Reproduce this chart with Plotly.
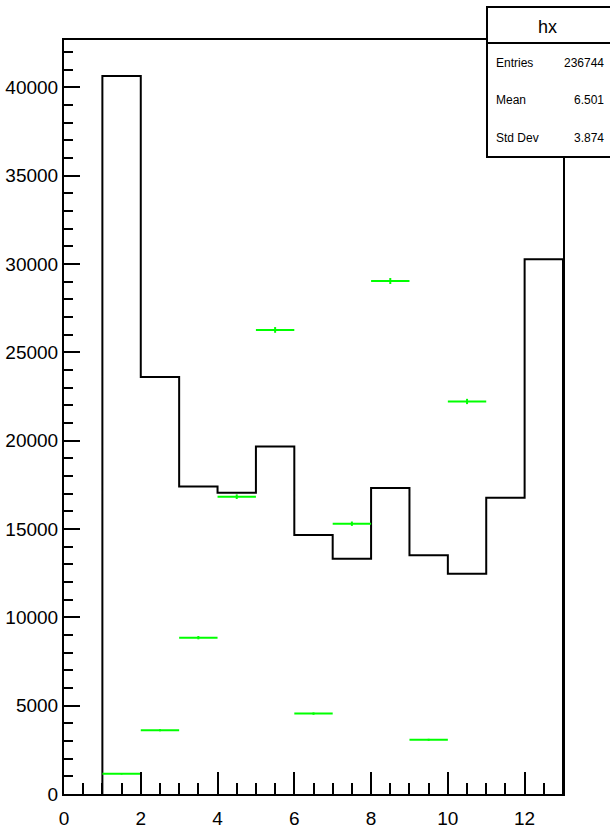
import numpy as np
import plotly.graph_objects as go

# Histogram "hx" (black outline), bins of width 1 from 1 to 13
bin_edges = [1, 2, 3, 4, 5, 6, 7, 8, 9, 10, 11, 12, 13]
hist_values = [40650, 23600, 17400, 17050, 19670, 14660, 13320, 17320, 13510, 12470, 16770, 30270]

# Second histogram drawn with error bars (green)
pt_centers = [1.5, 2.5, 3.5, 4.5, 5.5, 6.5, 7.5, 8.5, 9.5, 10.5]
pt_values = [1140, 3610, 8850, 16830, 26270, 4550, 15300, 29040, 3070, 22220]

stats_title = "hx"
stats_labels = ["Entries", "Mean", "Std Dev"]
stats_values = ["236744", "6.501", "3.874"]

W, H = 610, 830
ML, MR, MT, MB = 64, 47, 40, 36
PW, PH = W - ML - MR, H - MT - MB

def px(x):
    return (x - ML) / PW

def py(y):
    return (H - MB - y) / PH

ymax = max(hist_values) * 1.05

# step outline
sx = [bin_edges[0]] + bin_edges[:-1] + [bin_edges[-1], bin_edges[-1]]
sy = [0] + hist_values + [hist_values[-1], 0]

fig = go.Figure()
fig.add_trace(go.Scatter(
    x=sx, y=sy, mode="lines", line=dict(color="black", width=2, shape="hv"),
    hoverinfo="skip", showlegend=False))

fig.add_trace(go.Scatter(
    x=pt_centers, y=pt_values, mode="markers",
    marker=dict(color="#00ff00", size=1),
    error_x=dict(type="constant", value=0.5, color="#00ff00", thickness=2, width=0),
    error_y=dict(type="data", array=list(np.sqrt(pt_values)), color="#00ff00", thickness=2, width=0),
    showlegend=False))

font = "Liberation Sans, Arial, Helvetica, sans-serif"

fig.update_xaxes(
    range=[0, 13], showgrid=False, zeroline=False, automargin=False,
    showline=True, linecolor="black", linewidth=2, mirror=True,
    ticks="inside", ticklen=22, tickwidth=2, tickcolor="black", dtick=2, tick0=0,
    minor=dict(ticks="inside", ticklen=11, tickwidth=2, tickcolor="black", dtick=0.5, tick0=0),
    tickfont=dict(family=font, size=19, color="black"),
    ticklabelstandoff=6,
)
fig.update_yaxes(
    range=[0, ymax], showgrid=False, zeroline=False, automargin=False,
    showline=True, linecolor="black", linewidth=2, mirror=True,
    ticks="inside", ticklen=16, tickwidth=2, tickcolor="black", dtick=5000, tick0=0,
    minor=dict(ticks="inside", ticklen=9, tickwidth=2, tickcolor="black", dtick=1000, tick0=0),
    tickfont=dict(family=font, size=19, color="black"),
    tickformat="d",
)

# stats box
bx0, bx1, by_top, by_bot, by_sep = px(487), px(612), py(7), py(157), py(43)
fig.add_shape(type="rect", xref="paper", yref="paper", x0=bx0, x1=bx1, y0=by_bot, y1=by_top,
              line=dict(color="black", width=2), fillcolor="white", layer="above")
fig.add_shape(type="line", xref="paper", yref="paper", x0=bx0, x1=bx1, y0=by_sep, y1=by_sep,
              line=dict(color="black", width=2), layer="above")
fig.add_annotation(xref="paper", yref="paper", x=px(547), y=py(27), text=stats_title,
                   showarrow=False, xanchor="center", yanchor="middle",
                   font=dict(family=font, size=18, color="black"))
rows_y = [62.5, 100, 137.5]
for lab, val, ry in zip(stats_labels, stats_values, rows_y):
    fig.add_annotation(xref="paper", yref="paper", x=px(494), y=py(ry), text=lab,
                       showarrow=False, xanchor="left", yanchor="middle",
                       font=dict(family=font, size=12, color="black"))
    fig.add_annotation(xref="paper", yref="paper", x=px(606), y=py(ry), text=val,
                       showarrow=False, xanchor="right", yanchor="middle",
                       font=dict(family=font, size=12, color="black"))

fig.update_layout(
    width=W, height=H, margin=dict(l=ML, r=MR, t=MT, b=MB, pad=0, autoexpand=False),
    paper_bgcolor="white", plot_bgcolor="white", showlegend=False,
)

fig.write_html(
    "out.html",
    config={"displayModeBar": False},
    post_script="document.body.style.margin='0';document.body.style.padding='0';"
                "document.body.style.overflow='hidden';"
                "document.documentElement.style.overflow='hidden';",
)
